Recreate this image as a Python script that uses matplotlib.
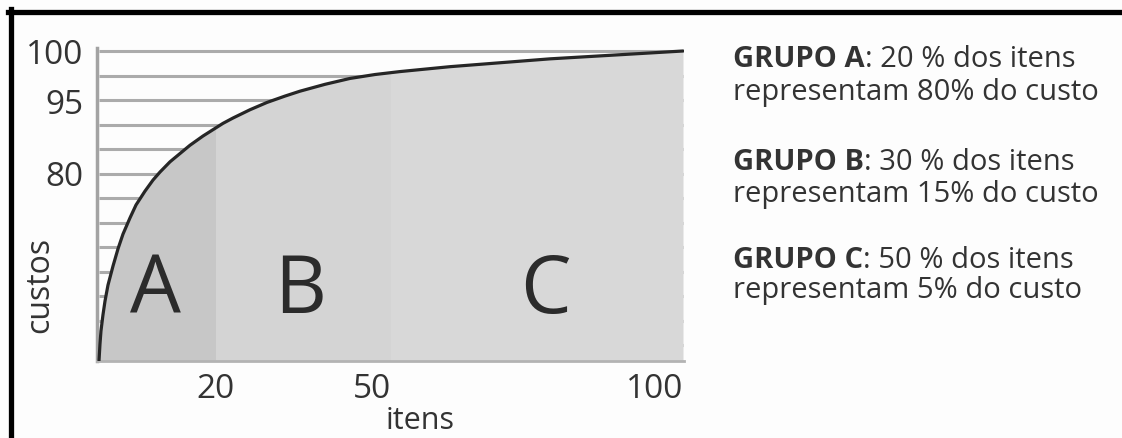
import numpy as np
import matplotlib.pyplot as plt
from matplotlib.lines import Line2D

plt.rcParams['font.family'] = ['Open Sans', 'DejaVu Sans']

# dados (curva ABC)
itens = [0, 0.17, 0.34, 0.68, 1.03, 1.54, 2.40, 3.25, 4.11, 5.31, 6.34, 7.88, 9.25,
         10.45, 12.16, 13.87, 15.58, 17.81, 19.52, 21.23, 22.95, 25.86, 28.77, 31.85,
         34.42, 38.70, 42.98, 47.26, 51.54, 60.10, 68.66, 77.23, 85.79, 94.35, 100]
custos = [0, 7.2, 12.8, 19.6, 25.5, 32.3, 40.4, 47.7, 54.0, 60.9, 66.4, 72.3, 77.0,
          80.2, 82.3, 84.0, 85.7, 87.6, 88.9, 90.2, 91.3, 93.0, 94.5, 95.4,
          95.9, 96.6, 97.2, 97.6, 97.9, 98.4, 98.8, 99.2, 99.5, 99.8, 100]
grupos = ['A', 'B', 'C']
limites = [0, 20, 50, 100]
cores_grupo = ['#c7c7c7', '#d4d4d4', '#d8d8d8']
yticks = [80, 95, 100]
xticks = [20, 50, 100]
textos = [('GRUPO A', ': 20 % dos itens', 'representam 80% do custo'),
          ('GRUPO B', ': 30 % dos itens', 'representam 15% do custo'),
          ('GRUPO C', ': 50 % dos itens', 'representam 5% do custo')]

# escala do eixo y (nao linear, como no desenho)
val_anc = [-10, 0, 80, 95, 100, 110]
pos_anc = [-23.5, 0, 188, 261, 310, 408]
def fwd(v):
    return np.interp(v, val_anc, pos_anc)
def inv(p):
    return np.interp(p, pos_anc, val_anc)

W, H = 1122, 439
fig = plt.figure(figsize=(W / 100, H / 100), dpi=100)
fig.patch.set_facecolor('#fdfdfd')
ax = fig.add_axes([97 / W, 77 / H, (684 - 97) / W, (362 - 49) / H])
ax.set_facecolor('#fdfdfd')
ax.set_yscale('function', functions=(fwd, inv))
ax.set_xlim(-0.34, 100.17)
ax.set_ylim(0, inv(313))

# linhas de grade
grade = inv(310 - 24.5 * np.arange(13))
ax.hlines(grade, 0, 100, color='#ababab', lw=2.2, zorder=1)

# area sob a curva
poly = ax.fill_between(itens, custos, 0, color=cores_grupo[-1], lw=0, zorder=2)
caminho = poly.get_paths()[0]
for i in range(len(grupos)):
    r = ax.axvspan(limites[i], limites[i + 1], color=cores_grupo[i], lw=0, zorder=2.5)
    r.set_clip_path(caminho, ax.transData)
ax.plot(itens, custos, color='#262626', lw=2.3, zorder=4, solid_capstyle='round')

# letras dos grupos
for i, g in enumerate(grupos):
    ax.text([9.6, 34.4, 76.4][i], 20.9, g, fontsize=58, color='#2b2b2b',
            ha='center', va='baseline', zorder=5)

for s in ['top', 'right']:
    ax.spines[s].set_visible(False)
ax.spines['left'].set_color('#a3a3a3')
ax.spines['left'].set_linewidth(2.5)
ax.spines['bottom'].set_color('#b3b3b3')
ax.spines['bottom'].set_linewidth(2)
ax.spines['bottom'].set_zorder(3)

ax.set_yticks(yticks)
ax.set_yticklabels([str(v) for v in yticks])
ax.set_xticks(xticks)
ax.set_xticklabels([str(v) for v in xticks])
ax.tick_params(length=0, labelsize=24, labelcolor='#333333')
ax.tick_params(axis='y', pad=10)
ax.tick_params(axis='x', pad=8)
lbls = ax.get_xticklabels()
lbls[1].set_ha('right')
lbls[2].set_ha('right')

fig.text(420 / W, 1 - 421 / H, 'itens', fontsize=22, color='#333333', ha='center', va='center')
fig.text(40 / W, 1 - 285 / H, 'custos', fontsize=23, color='#333333', ha='center', va='center', rotation=90)

# textos explicativos
bases = [(67, 100), (170, 202), (268, 298)]
for (neg, resto, linha2), (b1, b2) in zip(textos, bases):
    t = fig.text(733 / W, 1 - b1 / H, neg, fontsize=21, fontweight='bold', color='#333333', va='baseline')
    ax.annotate(resto, xy=(1, 0), xycoords=t, fontsize=21, color='#333333', va='bottom', ha='left',
                annotation_clip=False)
    fig.text(733 / W, 1 - b2 / H, linha2, fontsize=21, color='#333333', va='baseline')

# moldura preta
fig.add_artist(Line2D([8 / W, 1], [1 - 12.5 / H, 1 - 12.5 / H], color='black', lw=3.8))
fig.add_artist(Line2D([10.5 / W, 10.5 / W], [0, 1 - 10 / H], color='black', lw=3.8))

fig.savefig('out.png', dpi=100)
